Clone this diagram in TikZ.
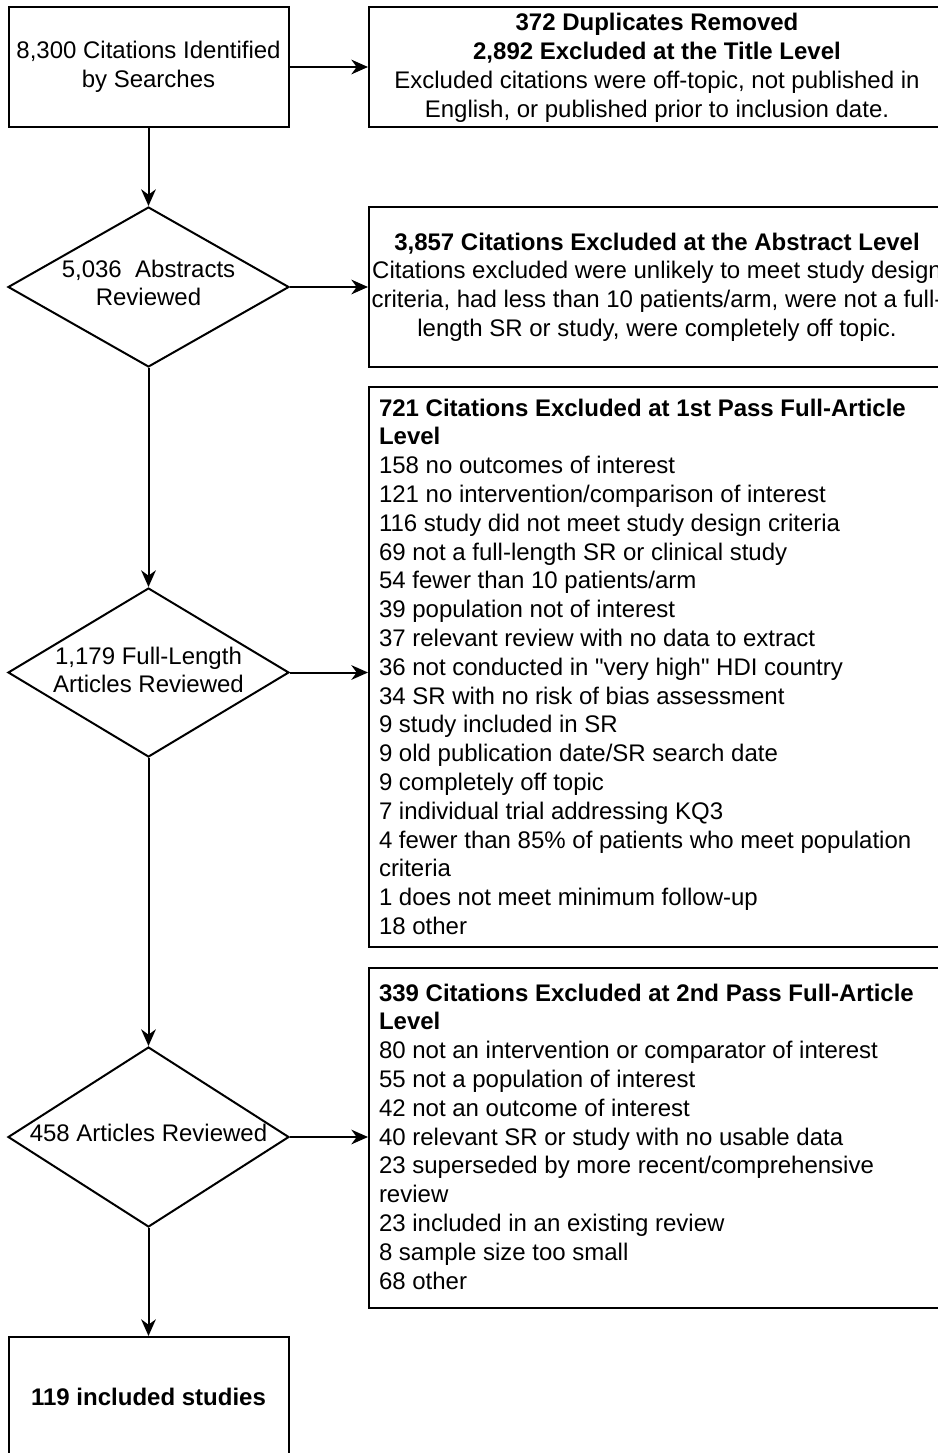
\documentclass[tikz,border=0pt]{standalone}
\usepackage{fontspec}
\setmainfont{Liberation Sans}[Ligatures=TeXOff]
\usetikzlibrary{shapes.geometric,arrows.meta}
\begin{document}
\begin{tikzpicture}[x=0.75pt,y=-0.75pt,
  every node/.style={inner sep=0pt, outer sep=0pt},
  box/.style={draw=black, line width=1.5pt, rectangle, fill=white, outer sep=0.75pt},
  dia/.style={draw=black, line width=1.5pt, diamond, fill=white, outer sep=0.75pt},
  txt/.style={font=\fontsize{18}{21.6}\selectfont, align=center},
  ltxt/.style={font=\fontsize{18}{21.6}\selectfont, align=left, anchor=north west},
  arr/.style={line width=1.5pt, -{Stealth[length=12.5pt,width=11pt,inset=4pt]}}
]
\useasboundingbox (0,0) rectangle (938,1453);
\clip (0,0) rectangle (938,1453);
\fill[white] (0,0) rectangle (938,1453);

% shapes
\node[box, minimum width=210pt, minimum height=90pt] (b1) at (148.5,67) {};
\node[box, minimum width=432pt, minimum height=90pt] (b2) at (657,67) {};
\node[dia, minimum width=210.75pt, minimum height=120pt] (d1) at (148.5,287) {};
\node[box, minimum width=432pt, minimum height=120pt] (b3) at (657,287) {};
\node[dia, minimum width=210.75pt, minimum height=126.75pt] (d2) at (148.5,672.5) {};
\node[box, minimum width=432pt, minimum height=420pt] (b4) at (657,667) {};
\node[dia, minimum width=210.75pt, minimum height=135pt] (d3) at (148.5,1137) {};
\node[box, minimum width=432pt, minimum height=255pt] (b5) at (657,1138) {};
\node[box, minimum width=210pt, minimum height=90pt] (b6) at (148.5,1397) {};

% texts
\node[txt] (t1) at (b1.center) {8,300 Citations Identified\\by Searches};
\node[txt, yshift=-0.5pt] (t2) at (b2.center) {\textbf{372 Duplicates Removed}\\\textbf{2,892 Excluded at the Title Level}\\Excluded citations were off-topic, not published in\\English, or published prior to inclusion date.};
\node[txt, yshift=3pt] (td1) at (d1.center) {5,036\ \ Abstracts\\Reviewed};
\node[txt] (t3) at (b3.center) {\textbf{3,857 Citations Excluded at the Abstract Level}\\Citations excluded were unlikely to meet study design\\criteria, had less than 10 patients/arm, were not a full-\\length SR or study, were completely off topic.};
\node[txt, yshift=2pt] (td2) at (d2.center) {1,179 Full-Length\\Articles Reviewed};
\node[ltxt] (t4) at (379,396) {\rule{0pt}{15pt}\textbf{721 Citations Excluded at 1st Pass Full-Article}\\
\textbf{Level}\\
158 no outcomes of interest\\
121 no intervention/comparison of interest\\
116 study did not meet study design criteria\\
69 not a full-length SR or clinical study\\
54 fewer than 10 patients/arm\\
39 population not of interest\\
37 relevant review with no data to extract\\
36 not conducted in "very high" HDI country\\
34 SR with no risk of bias assessment\\
9 study included in SR\\
9 old publication date/SR search date\\
9 completely off topic\\
7 individual trial addressing KQ3\\
4 fewer than 85\% of patients who meet population\\
criteria\\
1 does not meet minimum follow-up\\
18 other};
\node[txt, yshift=3pt] (td3) at (d3.center) {458 Articles Reviewed};
\node[ltxt] (t5) at (379,981) {\rule{0pt}{15pt}\textbf{339 Citations Excluded at 2nd Pass Full-Article}\\
\textbf{Level}\\
80 not an intervention or comparator of interest\\
55 not a population of interest\\
42 not an outcome of interest\\
40 relevant SR or study with no usable data\\
23 superseded by more recent/comprehensive\\
review\\
23 included in an existing review\\
8 sample size too small\\
68 other};
\node[txt] (t6) at (b6.center) {\textbf{119 included studies}};

% connectors
\draw[arr] (b1.east) -- (b2.west);
\draw[arr] (d1.east) -- (b3.west);
\draw[arr] (d2.east) -- (d2.east -| b4.west);
\draw[arr] (d3.east) -- (d3.east -| b5.west);
\draw[arr] (b1.south) -- (d1.north);
\draw[arr] (d1.south) -- (d2.north);
\draw[arr] (d2.south) -- (d3.north);
\draw[arr] (d3.south) -- (b6.north);
\end{tikzpicture}
\end{document}
